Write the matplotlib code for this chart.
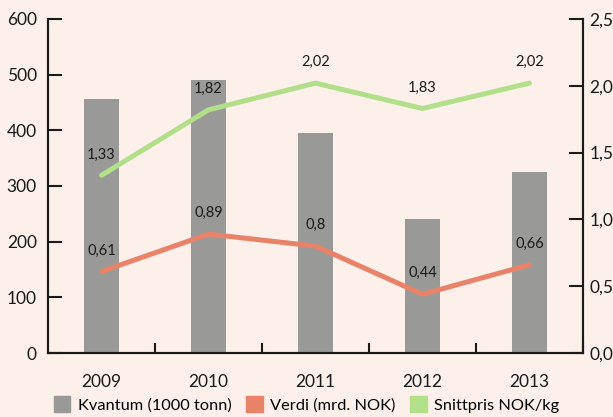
import numpy as np
import matplotlib.pyplot as plt
from matplotlib.patches import Patch
from matplotlib.ticker import FixedLocator

# ── Data ──────────────────────────────────────────────────────────────────────
years    = ["2009", "2010", "2011", "2012", "2013"]
kvantum  = [456, 490, 395, 240, 325]            # 1000 tonn (left axis)
verdi    = [0.61, 0.89, 0.80, 0.44, 0.66]       # mrd. NOK (right axis)
snittpris = [1.33, 1.82, 2.02, 1.83, 2.02]      # NOK/kg (right axis)
verdi_lbl = ["0,61", "0,89", "0,8", "0,44", "0,66"]
pris_lbl  = ["1,33", "1,82", "2,02", "1,83", "2,02"]

BG     = "#fdf0ea"
GREY   = "#999a98"
ORANGE = "#e8836a"
GREEN  = "#b2e08a"
INK    = "#1a1a1a"

plt.rcParams["font.family"] = ["Lato", "DejaVu Sans"]

fig = plt.figure(figsize=(6.13, 4.17), dpi=100, facecolor=BG)
ax = fig.add_axes([48 / 613, 1 - 353 / 417, 535 / 613, 334 / 417])
ax.set_facecolor(BG)
ax2 = ax.twinx()

x = np.arange(len(years))
ax.bar(x, kvantum, width=0.33, color=GREY, zorder=2)

ax2.plot(x, verdi, color=ORANGE, lw=3.6, solid_capstyle="round", zorder=3)
ax2.plot(x, snittpris, color=GREEN, lw=3.6, solid_capstyle="round", zorder=3)
for xi, v, t in zip(x, verdi, verdi_lbl):
    ax2.annotate(t, (xi, v), xytext=(0, 10), textcoords="offset points",
                 ha="center", va="bottom", fontsize=10.5, color=INK)
for xi, v, t in zip(x, snittpris, pris_lbl):
    ax2.annotate(t, (xi, v), xytext=(0, 10), textcoords="offset points",
                 ha="center", va="bottom", fontsize=10.5, color=INK)

# axes
ax.set_xlim(-0.5, len(years) - 0.5)
ax.set_ylim(0, 600)
ax2.set_ylim(0, 2.5)
ax.set_yticks(range(0, 601, 100))
ax2.set_yticks(np.arange(0, 2.51, 0.5))
ax2.set_yticklabels([f"{v:.1f}".replace(".", ",") for v in np.arange(0, 2.51, 0.5)])

ax.set_xticks(x)
ax.set_xticklabels(years)
ax.xaxis.set_minor_locator(FixedLocator(np.arange(0.5, len(years), 1)))
ax.tick_params(axis="x", which="major", length=0, pad=15, labelsize=12.5, colors=INK)
ax.tick_params(axis="x", which="minor", direction="in", length=7, width=1.5, color=INK)
ax.tick_params(axis="y", direction="in", length=10, width=1.5, pad=8,
               labelsize=12.5, colors=INK)
ax2.tick_params(axis="y", direction="in", length=10, width=1.5, pad=4.5,
                labelsize=12.5, colors=INK)

for a in (ax, ax2):
    a.spines["top"].set_visible(False)
    for s in ("left", "right", "bottom"):
        a.spines[s].set_linewidth(1.5)
        a.spines[s].set_color(INK)

handles = [Patch(color=GREY, label="Kvantum (1000 tonn)"),
           Patch(color=ORANGE, label="Verdi (mrd. NOK)"),
           Patch(color=GREEN, label="Snittpris NOK/kg")]
fig.legend(handles=handles, loc="lower center", bbox_to_anchor=(0.5, -0.025),
           ncol=3, frameon=False, fontsize=11.8, handlelength=1.0,
           handleheight=1.1, handletextpad=0.45, columnspacing=0.9)

fig.savefig("out.png", dpi=100, facecolor=BG)
